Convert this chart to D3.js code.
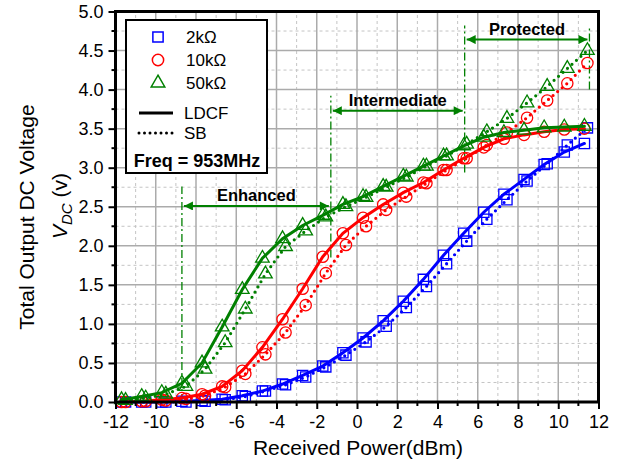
<!DOCTYPE html>
<html>
<head>
<meta charset="utf-8">
<script src="https://cdn.jsdelivr.net/npm/d3@7"></script>
<style>
body { margin: 0; background: #fff; }
svg { font-family: Arial, "Liberation Sans", sans-serif; }
</style>
</head>
<body>
<svg width="621" height="463"></svg>
<script>
// received power (dBm) for each measurement
var xLDCF = [-11.7,-10.7,-9.7,-8.7,-7.7,-6.7,-5.7,-4.7,-3.7,-2.7,-1.7,-0.7,0.3,1.3,2.3,3.3,4.3,5.3,6.3,7.3,8.3,9.3,10.3,11.3]
var xSB = [-11.5,-10.5,-9.5,-8.5,-7.55,-6.55,-5.55,-4.55,-3.55,-2.55,-1.55,-0.55,0.45,1.45,2.45,3.45,4.45,5.45,6.45,7.45,8.45,9.45,10.45,11.45]

// output DC voltage
var blueLDCF = [0,0,0,0.01,0.02,0.035,0.08,0.14,0.23,0.34,0.46,0.63,0.82,1.04,1.29,1.57,1.88,2.16,2.43,2.66,2.85,3.04,3.20,3.31]
var blueSB = [0,0,0,0,0.01,0.03,0.07,0.14,0.22,0.32,0.45,0.60,0.77,0.97,1.21,1.48,1.77,2.06,2.34,2.59,2.83,3.05,3.29,3.51]
var redLDCF = [0,0.01,0.03,0.05,0.10,0.20,0.40,0.70,1.06,1.45,1.86,2.16,2.36,2.53,2.68,2.81,2.97,3.12,3.26,3.37,3.42,3.46,3.49,3.50]
var redSB = [0,0.01,0.02,0.04,0.08,0.19,0.36,0.61,0.89,1.24,1.65,2.01,2.25,2.46,2.63,2.80,2.97,3.12,3.29,3.45,3.64,3.86,4.08,4.34]
var greenLDCF = [0.03,0.07,0.12,0.24,0.50,0.96,1.44,1.84,2.09,2.26,2.39,2.53,2.63,2.76,2.89,3.02,3.15,3.28,3.39,3.45,3.48,3.51,3.52,3.53]
var greenSB = [0.02,0.05,0.10,0.20,0.42,0.76,1.19,1.64,1.99,2.19,2.37,2.50,2.62,2.75,2.88,3.02,3.15,3.30,3.46,3.63,3.83,4.04,4.27,4.50]

var loadNames = ['2k\u03A9', '10k\u03A9', '50k\u03A9']
var methodNames = ['LDCF', 'SB']

var xTicks = [-12,-10,-8,-6,-4,-2,0,2,4,6,8,10,12]
var yTicks = [0,0.5,1,1.5,2,2.5,3,3.5,4,4.5,5]

// operating regions (dBm) and where their arrows sit (V)
var regionNames = ['Enhanced', 'Intermediate', 'Protected']
var regionFrom = [-8.7, -1.3, 5.35]
var regionTo = [-1.3, 5.35, 11.55]
var regionArrowV = [2.51, 3.73, 4.64]
var boundX = [-8.7, -1.3, 5.35, 11.55]
var boundLo = [0, 1.85, 2.94, 4.0]
var boundHi = [2.76, 3.92, 4.82, 4.81]

var svg = d3.select('svg')

var x = d3.scaleLinear().domain([-12, 12]).range([115.5, 598.5])
var y = d3.scaleLinear().domain([0, 5]).range([402, 11.5])

var colors = ['#0000ff', '#ff0000', '#008000']
var shapes = [d3.symbolSquare, d3.symbolCircle, d3.symbolTriangle]
var sizes = [105, 100, 80]

var series = [
    {c: 0, m: 0, xs: xLDCF, ys: blueLDCF},
    {c: 0, m: 1, xs: xSB, ys: blueSB},
    {c: 1, m: 0, xs: xLDCF, ys: redLDCF},
    {c: 1, m: 1, xs: xSB, ys: redSB},
    {c: 2, m: 0, xs: xLDCF, ys: greenLDCF},
    {c: 2, m: 1, xs: xSB, ys: greenSB}
]

// grid
var grid = svg.append('g')
grid.selectAll('.vminor')
    .data(d3.range(-11, 12, 2))
    .join('line')
    .attr('x1', d => x(d)).attr('x2', d => x(d))
    .attr('y1', y(0)).attr('y2', y(5))
    .attr('stroke', '#c4c4c4').attr('stroke-dasharray', '3,3').attr('stroke-width', 1)
grid.selectAll('.hminor')
    .data(d3.range(0.25, 5, 0.5))
    .join('line')
    .attr('x1', x(-12)).attr('x2', x(12))
    .attr('y1', d => y(d)).attr('y2', d => y(d))
    .attr('stroke', '#c4c4c4').attr('stroke-dasharray', '3,3').attr('stroke-width', 1)
grid.selectAll('.vmajor')
    .data(xTicks.slice(1, -1))
    .join('line')
    .attr('x1', d => x(d)).attr('x2', d => x(d))
    .attr('y1', y(0)).attr('y2', y(5))
    .attr('stroke', '#ababab').attr('stroke-width', 1.5)
grid.selectAll('.hmajor')
    .data(yTicks.slice(1, -1))
    .join('line')
    .attr('x1', x(-12)).attr('x2', x(12))
    .attr('y1', d => y(d)).attr('y2', d => y(d))
    .attr('stroke', '#ababab').attr('stroke-width', 1.5)

// region markers
var green = '#008000'
svg.append('defs').append('marker')
    .attr('id', 'head')
    .attr('viewBox', '0 0 10 10')
    .attr('refX', 10).attr('refY', 5)
    .attr('markerWidth', 6).attr('markerHeight', 4.5)
    .attr('orient', 'auto-start-reverse')
    .append('path')
    .attr('d', 'M0,0L10,5L0,10Z')
    .attr('fill', green)

svg.append('g').selectAll('line')
    .data(boundX)
    .join('line')
    .attr('x1', d => x(d)).attr('x2', d => x(d))
    .attr('y1', (d, i) => y(boundLo[i])).attr('y2', (d, i) => y(boundHi[i]))
    .attr('stroke', green).attr('stroke-width', 1.3)
    .attr('stroke-dasharray', '8,3,2,3')

var arrows = svg.append('g')
arrows.selectAll('line')
    .data(regionNames)
    .join('line')
    .attr('x1', (d, i) => x(regionFrom[i]) + 2).attr('x2', (d, i) => x(regionTo[i]) - 2)
    .attr('y1', (d, i) => y(regionArrowV[i])).attr('y2', (d, i) => y(regionArrowV[i]))
    .attr('stroke', green).attr('stroke-width', 2)
    .attr('marker-start', 'url(#head)').attr('marker-end', 'url(#head)')
arrows.selectAll('text')
    .data(regionNames)
    .join('text')
    .attr('x', (d, i) => (x(regionFrom[i]) + x(regionTo[i])) / 2)
    .attr('y', (d, i) => y(regionArrowV[i]) - 5)
    .attr('text-anchor', 'middle')
    .attr('font-size', 16.5).attr('font-weight', 'bold')
    .text(d => d)

// curves
var line = d3.line().x(d => x(d[0])).y(d => y(d[1]))

series.forEach(s => {
    var pts = s.xs.map((v, i) => [v, s.ys[i]])
    var g = svg.append('g')
    g.append('path')
        .attr('d', line(pts))
        .attr('fill', 'none')
        .attr('stroke', colors[s.c])
        .attr('stroke-width', s.m == 0 ? 3 : 3.2)
        .attr('stroke-linecap', 'round')
        .attr('stroke-dasharray', s.m == 0 ? null : '0,6')
    g.selectAll('path.pt')
        .data(pts)
        .join('path')
        .attr('class', 'pt')
        .attr('transform', d => 'translate(' + x(d[0]) + ',' + y(d[1]) + ')')
        .attr('d', d3.symbol().type(shapes[s.c]).size(sizes[s.c]))
        .attr('fill', 'none')
        .attr('stroke', colors[s.c])
        .attr('stroke-width', 1.3)
})

// axes
var xAxis = d3.axisBottom(x).tickValues(xTicks).tickSize(7).tickPadding(6).tickFormat(d => String(d))
var yAxis = d3.axisLeft(y).tickValues(yTicks).tickSize(7).tickPadding(5).tickFormat(d3.format('.1f'))

var gx = svg.append('g').attr('transform', 'translate(0,' + y(0) + ')').call(xAxis)
var gy = svg.append('g').attr('transform', 'translate(' + x(-12) + ',0)').call(yAxis)
;[gx, gy].forEach(g => {
    g.select('.domain').remove()
    g.selectAll('.tick line').attr('stroke', '#000').attr('stroke-width', 2)
    g.selectAll('.tick text').attr('font-size', 18).attr('fill', '#000')
        .attr('font-family', 'Arial, "Liberation Sans", sans-serif')
})

// minor ticks
svg.append('g').selectAll('line')
    .data(d3.range(-11, 12, 2))
    .join('line')
    .attr('x1', d => x(d)).attr('x2', d => x(d))
    .attr('y1', y(0)).attr('y2', y(0) + 4)
    .attr('stroke', '#000').attr('stroke-width', 2)
svg.append('g').selectAll('line')
    .data(d3.range(0.25, 5, 0.5))
    .join('line')
    .attr('y1', d => y(d)).attr('y2', d => y(d))
    .attr('x1', x(-12)).attr('x2', x(-12) - 4)
    .attr('stroke', '#000').attr('stroke-width', 2)

// frame
svg.append('rect')
    .attr('x', x(-12)).attr('y', y(5))
    .attr('width', x(12) - x(-12)).attr('height', y(0) - y(5))
    .attr('fill', 'none').attr('stroke', '#000').attr('stroke-width', 3)

// titles
svg.append('text')
    .attr('x', 358).attr('y', 455)
    .attr('text-anchor', 'middle').attr('font-size', 21)
    .text('Received Power(dBm)')

svg.append('text')
    .attr('transform', 'translate(34,217) rotate(-90)')
    .attr('text-anchor', 'middle').attr('font-size', 21)
    .text('Total Output DC Voltage')

var vt = svg.append('text')
    .attr('transform', 'translate(67,206) rotate(-90)')
    .attr('text-anchor', 'middle').attr('font-size', 21)
vt.append('tspan').attr('font-style', 'italic').text('V')
vt.append('tspan').attr('font-style', 'italic').attr('font-size', 15).attr('dy', 5).text('DC')
vt.append('tspan').attr('dy', -5).text(' (v)')

// legend
var leg = svg.append('g')
leg.append('rect')
    .attr('x', 126).attr('y', 20).attr('width', 141).attr('height', 153)
    .attr('fill', '#fff').attr('stroke', '#000').attr('stroke-width', 2)

loadNames.forEach((name, i) => {
    leg.append('path')
        .attr('transform', 'translate(158,' + (37 + i * 23) + ')')
        .attr('d', d3.symbol().type(shapes[i]).size(sizes[i])())
        .attr('fill', 'none').attr('stroke', colors[i]).attr('stroke-width', 1.5)
    leg.append('text')
        .attr('x', 186).attr('y', 43 + i * 23)
        .attr('font-size', 17)
        .text(name)
})

methodNames.forEach((name, i) => {
    leg.append('line')
        .attr('x1', 139).attr('x2', 173)
        .attr('y1', 113 + i * 20).attr('y2', 113 + i * 20)
        .attr('stroke', '#000').attr('stroke-width', 3)
        .attr('stroke-linecap', i == 0 ? 'butt' : 'round')
        .attr('stroke-dasharray', i == 0 ? null : '0,5.5')
    leg.append('text')
        .attr('x', 184).attr('y', 119 + i * 20)
        .attr('font-size', 17)
        .text(name)
})

leg.append('text')
    .attr('x', 197).attr('y', 167)
    .attr('text-anchor', 'middle')
    .attr('font-size', 18).attr('font-weight', 'bold')
    .text('Freq = 953MHz')
</script>
</body>
</html>
